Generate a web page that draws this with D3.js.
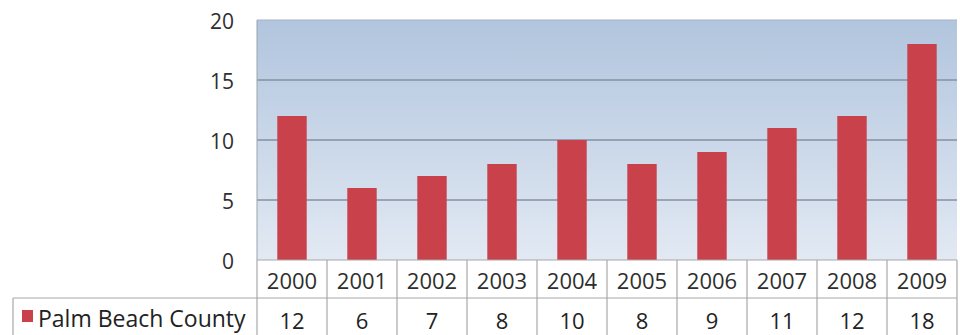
<!DOCTYPE html>
<html>
<head>
<meta charset="utf-8">
<script src="https://cdn.jsdelivr.net/npm/d3@7"></script>
<style>
  html, body { margin: 0; padding: 0; background: #ffffff; }
  svg { display: block; font-family: "Open Sans", "DejaVu Sans", sans-serif; }
</style>
</head>
<body>
<svg id="chart" width="960" height="335"></svg>
<script>
// Annual counts for Palm Beach County
const years = ["2000", "2001", "2002", "2003", "2004", "2005", "2006", "2007", "2008", "2009"];
const counts = [12, 6, 7, 8, 10, 8, 9, 11, 12, 18];
const seriesName = "Palm Beach County";
const yTicks = [0, 5, 10, 15, 20];

const svg = d3.select("#chart");
const plot = { left: 257, right: 957, top: 20, bottom: 260 };
const tableLeft = 13, rowSplit = 298, tableBottom = 340;

const x = d3.scaleBand()
  .domain(years)
  .range([plot.left, plot.right])
  .paddingInner(0.58)
  .paddingOuter(0.29);

const y = d3.scaleLinear()
  .domain([0, 20])
  .range([plot.bottom, plot.top]);

// Plot background gradient
const defs = svg.append("defs");
const grad = defs.append("linearGradient")
  .attr("id", "bg").attr("x1", 0).attr("y1", 0).attr("x2", 0).attr("y2", 1);
grad.append("stop").attr("offset", "0%").attr("stop-color", "#b1c5de");
grad.append("stop").attr("offset", "100%").attr("stop-color", "#e2e9f3");

svg.append("rect")
  .attr("x", plot.left).attr("y", plot.top)
  .attr("width", plot.right - plot.left).attr("height", plot.bottom - plot.top)
  .attr("fill", "url(#bg)");

// Horizontal gridlines
svg.append("g")
  .selectAll("line")
  .data(yTicks.filter(d => d > 0 && d < 20))
  .join("line")
  .attr("x1", plot.left).attr("x2", plot.right)
  .attr("y1", d => y(d)).attr("y2", d => y(d))
  .attr("stroke", "#8491a1").attr("stroke-width", 1.3);

// Plot frame (top and left edges)
svg.append("line")
  .attr("x1", plot.left).attr("x2", plot.right)
  .attr("y1", y(20)).attr("y2", y(20))
  .attr("stroke", "#a9b3bf").attr("stroke-width", 1.2);
svg.append("line")
  .attr("x1", plot.left).attr("x2", plot.left)
  .attr("y1", plot.top).attr("y2", plot.bottom)
  .attr("stroke", "#9aa3ad").attr("stroke-width", 1);

// Y axis labels
const yAxis = d3.axisLeft(y).tickValues(yTicks).tickSize(0).tickPadding(0);
const yg = svg.append("g")
  .attr("transform", `translate(${plot.left - 23},0)`)
  .call(yAxis);
yg.select(".domain").remove();
yg.selectAll("text")
  .attr("font-family", "\"Open Sans\", sans-serif")
  .attr("font-size", 21)
  .attr("fill", "#2e2e2e")
  .attr("dy", "0.4em");

// Bars
svg.append("g")
  .selectAll("rect")
  .data(years.map((yr, i) => ({ yr, v: counts[i] })))
  .join("rect")
  .attr("x", d => x(d.yr))
  .attr("y", d => y(d.v))
  .attr("width", x.bandwidth())
  .attr("height", d => y(0) - y(d.v))
  .attr("fill", "#c9414b");

// Data table below the plot
const grid = svg.append("g")
  .attr("stroke", "#a8a8a8").attr("stroke-width", 1.2).attr("fill", "none");

// Vertical separators at category boundaries
const boundaries = years.map(yr => x(yr) - x.step() * x.paddingInner() / 2)
  .concat([plot.right]);
boundaries[0] = plot.left;
grid.selectAll("line.v")
  .data(boundaries)
  .join("line")
  .attr("class", "v")
  .attr("x1", d => d).attr("x2", d => d)
  .attr("y1", plot.bottom).attr("y2", tableBottom);

// Row separator and legend cell edges
grid.append("line")
  .attr("x1", tableLeft).attr("x2", plot.right)
  .attr("y1", rowSplit).attr("y2", rowSplit);
grid.append("line")
  .attr("x1", tableLeft).attr("x2", tableLeft)
  .attr("y1", rowSplit).attr("y2", tableBottom);
grid.append("line")
  .attr("x1", plot.left).attr("x2", plot.right)
  .attr("y1", plot.bottom).attr("y2", plot.bottom);

const cx = yr => x(yr) + x.bandwidth() / 2;

// Year header row
svg.append("g")
  .selectAll("text")
  .data(years)
  .join("text")
  .attr("x", d => cx(d))
  .attr("y", 289)
  .attr("text-anchor", "middle")
  .attr("font-size", 22)
  .attr("fill", "#2e2e2e")
  .text(d => d);

// Value row
svg.append("g")
  .selectAll("text")
  .data(years.map((yr, i) => ({ yr, v: counts[i] })))
  .join("text")
  .attr("x", d => cx(d.yr))
  .attr("y", 329)
  .attr("text-anchor", "middle")
  .attr("font-size", 22)
  .attr("fill", "#222222")
  .text(d => d.v);

// Legend key and series name
svg.append("rect")
  .attr("x", 22).attr("y", 310)
  .attr("width", 11).attr("height", 12)
  .attr("fill", "#c9414b");
svg.append("text")
  .attr("x", 38).attr("y", 327)
  .attr("font-size", 23)
  .attr("fill", "#222222")
  .text(seriesName);
</script>
</body>
</html>
